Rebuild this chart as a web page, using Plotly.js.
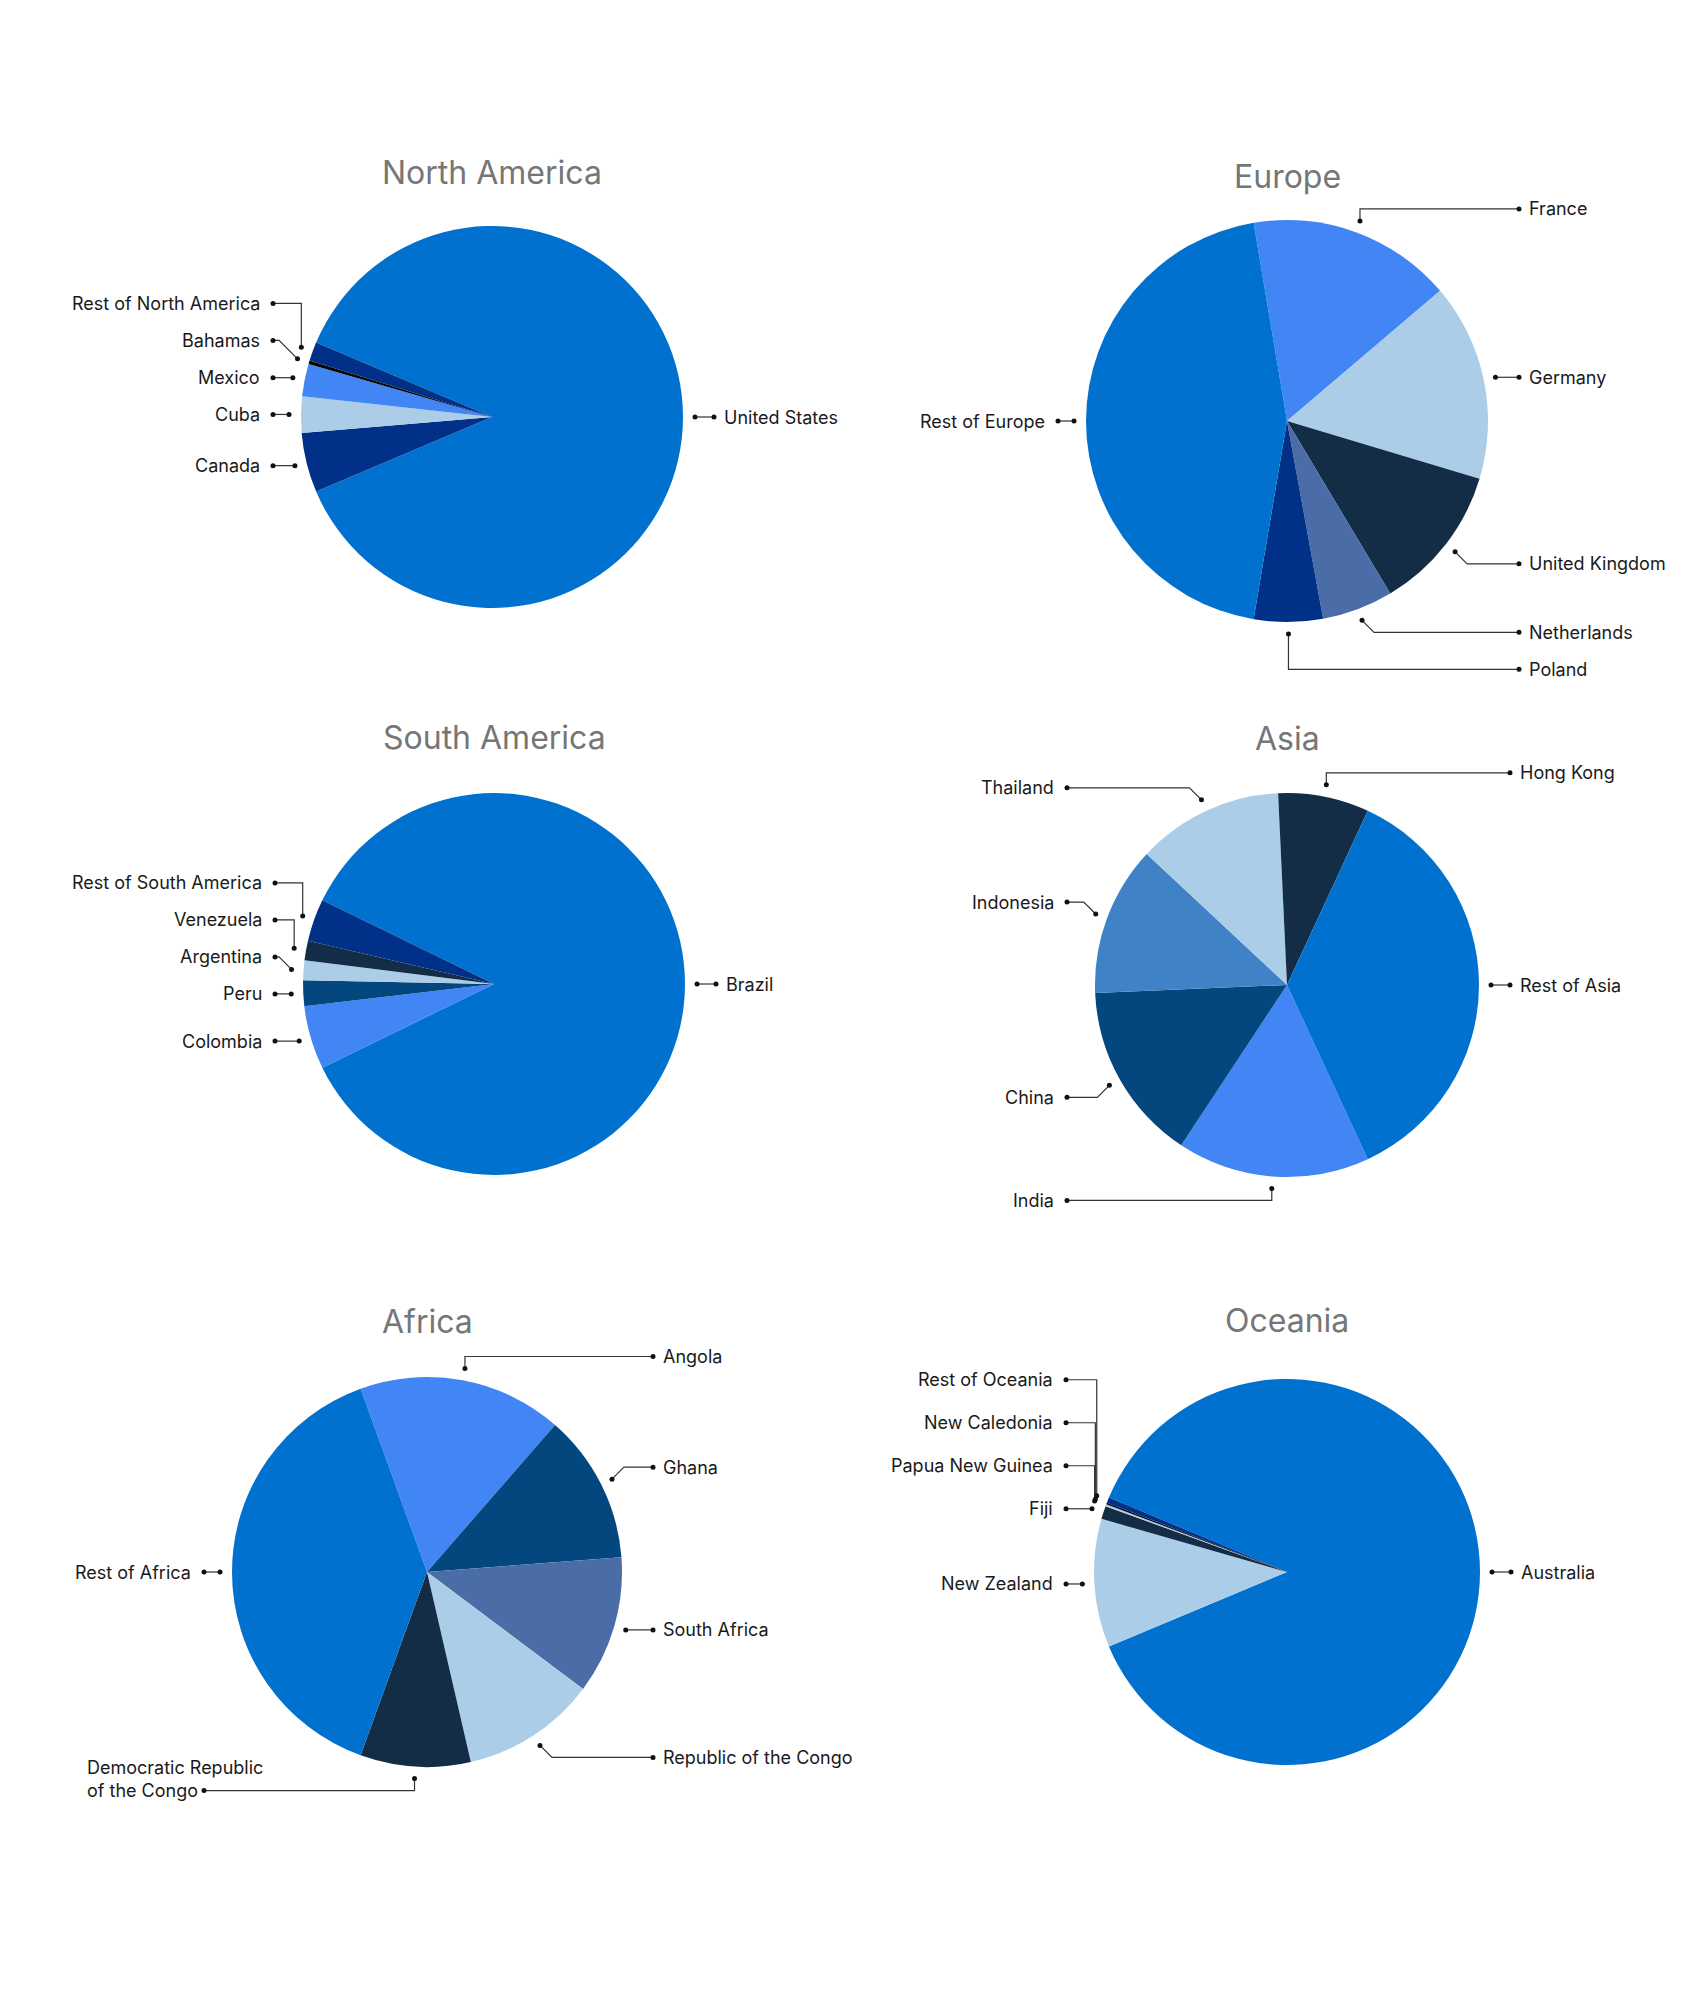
<!DOCTYPE html>
<html>
<head>
<meta charset="utf-8">
<script src="https://cdn.plot.ly/plotly-3.0.1.min.js"></script>
<style>
html,body{margin:0;padding:0;background:#ffffff;}
#chart{width:1683px;height:1999px;}
</style>
</head>
<body>
<div id="chart"></div>
<script>
// ---------------- data ----------------
const naLabels = ['United States','Canada','Cuba','Mexico','Bahamas','Rest of North America'];
const naValues = [87.25, 5.05, 3.05, 2.75, 0.3, 1.6];

const euLabels = ['France','Germany','United Kingdom','Netherlands','Poland','Rest of Europe'];
const euValues = [16.44, 15.85, 11.78, 5.71, 5.53, 44.69];

const saLabels = ['Brazil','Colombia','Peru','Argentina','Venezuela','Rest of South America'];
const saValues = [85.56, 5.36, 2.17, 1.67, 1.66, 3.58];

const asLabels = ['India','China','Indonesia','Thailand','Hong Kong','Rest of Asia'];
const asValues = [16.2, 15.06, 12.62, 12.3, 7.65, 36.18];

const afLabels = ['Angola','Ghana','South Africa','Republic of the Congo','Democratic Republic of the Congo','Rest of Africa'];
const afValues = [16.93, 12.39, 11.44, 11.16, 9.14, 38.94];

const ocLabels = ['Australia','New Zealand','Fiji','Papua New Guinea','New Caledonia','Rest of Oceania'];
const ocValues = [87.4, 10.74, 1.1, 0.16, 0.15, 0.45];

// ---------------- styles ----------------
const C = {
  blue:'#0071CE', navy:'#003087', light:'#ABCDE8', bright:'#4285F4', black:'#050505',
  dark:'#132D46', deep:'#04477E', slate:'#4A6DA7', mid:'#3F82C6'
};
const naColors = [C.blue, C.navy, C.light, C.bright, C.black, C.navy];
const euColors = [C.bright, C.light, C.dark, C.slate, C.navy, C.blue];
const saColors = [C.blue, C.bright, C.deep, C.light, C.dark, C.navy];
const asColors = [C.bright, C.deep, C.mid, C.light, C.dark, C.blue];
const afColors = [C.bright, C.deep, C.slate, C.light, C.dark, C.blue];
const ocColors = [C.blue, C.light, C.dark, C.light, C.black, C.navy];

const W = 1683, H = 1999;
const pies = [
  {title:'North America', labels:naLabels, values:naValues, colors:naColors, cx:492, cy:417, r:191, titleY:172, bigSide:'right', gap:37},
  {title:'Europe',        labels:euLabels, values:euValues, colors:euColors, cx:1287, cy:421, r:201, titleY:176, bigSide:'left', gap:37},
  {title:'South America', labels:saLabels, values:saValues, colors:saColors, cx:494, cy:984, r:191, titleY:737, bigSide:'right', gap:37},
  {title:'Asia',          labels:asLabels, values:asValues, colors:asColors, cx:1287, cy:985, r:192, titleY:738, bigSide:'right', gap:37},
  {title:'Africa',        labels:afLabels, values:afValues, colors:afColors, cx:427, cy:1572, r:195, titleY:1321, bigSide:'left', gap:37},
  {title:'Oceania',       labels:ocLabels, values:ocValues, colors:ocColors, cx:1287, cy:1572, r:193, titleY:1320, bigSide:'right', gap:43}
];

const LABEL_SIZE = 18, TITLE_SIZE = 32, ANCHOR_OFF = 12;
const COL_OFF_R = 31, COL_OFF_L = 28, PAD_R = 8, PAD_L = 11, PAD_ML = 8;
const FONT = 'Inter, "Noto Sans", sans-serif';
const ctx = document.createElement('canvas').getContext('2d');
ctx.font = LABEL_SIZE + 'px Inter';

function wrap(label) {
  if (label.length <= 24) return [label];
  const words = label.split(' ');
  const lines = [];
  let cur = '';
  words.forEach(w => {
    if (cur && (cur + ' ' + w).length > 20) { lines.push(cur); cur = w; }
    else cur = cur ? cur + ' ' + w : w;
  });
  if (cur) lines.push(cur);
  return lines;
}

const traces = [], annotations = [];
const lx = [], ly = [], dx = [], dy = [];

pies.forEach(p => {
  const total = p.values.reduce((a, b) => a + b, 0);
  let k = 0;
  p.values.forEach((v, i) => { if (v > p.values[k]) k = i; });
  const before = p.values.slice(0, k).reduce((a, b) => a + b, 0);
  const target = p.bigSide === 'right' ? 90 : 270;
  let rot = target - 360 * (before + p.values[k] / 2) / total;
  rot = ((rot + 180) % 360 + 360) % 360 - 180;

  traces.push({
    type: 'pie', labels: p.labels, values: p.values, sort: false, direction: 'clockwise',
    rotation: rot, marker: {colors: p.colors, line: {width: 0}}, textinfo: 'none',
    hoverinfo: 'label+percent', showlegend: false,
    domain: {x: [(p.cx - p.r) / W, (p.cx + p.r) / W], y: [1 - (p.cy + p.r) / H, 1 - (p.cy - p.r) / H]}
  });

  annotations.push({
    xref: 'x', yref: 'y', x: p.cx, y: p.titleY, text: p.title, showarrow: false,
    xanchor: 'center', yanchor: 'middle', font: {family: FONT, size: TITLE_SIZE, color: '#767676'}
  });

  let cum = 0;
  const items = [];
  p.values.forEach((v, i) => {
    const theta = rot + 360 * (cum + v / 2) / total; cum += v;
    const phi = (90 - theta) * Math.PI / 180;
    const c = Math.cos(phi), s = Math.sin(phi);
    const ax = p.cx + (p.r + ANCHOR_OFF) * c, ay = p.cy - (p.r + ANCHOR_OFF) * s;
    const side = c >= 0 ? 1 : -1;
    let y0 = ay;
    if (Math.abs(s) > 0.33) y0 = ay - 12 * Math.sign(s);
    items.push({label: p.labels[i], c, s, ax, ay, side, ly: y0});
  });

  [1, -1].forEach(side => {
    const grp = items.filter(it => it.side === side).sort((a, b) => a.ly - b.ly);
    if (!grp.length) return;
    let m = 0;
    grp.forEach((it, i) => { if (Math.abs(it.ly - p.cy) < Math.abs(grp[m].ly - p.cy)) m = i; });
    for (let i = m - 1; i >= 0; i--) grp[i].ly = Math.min(grp[i].ly, grp[i + 1].ly - p.gap);
    for (let i = m + 1; i < grp.length; i++) grp[i].ly = Math.max(grp[i].ly, grp[i - 1].ly + p.gap);
  });

  items.forEach(it => {
    const colX = it.side === 1 ? p.cx + p.r + COL_OFF_R : p.cx - p.r - COL_OFF_L;
    const d = it.ly - it.ay;
    let pts;
    if (Math.abs(d) < 1) { it.ly = it.ay; pts = [[it.ax, it.ay], [colX, it.ay]]; }
    else if (Math.abs(it.c) < 0.35 || Math.abs(d) > 20) pts = [[it.ax, it.ay], [it.ax, it.ly], [colX, it.ly]];
    else pts = [[it.ax, it.ay], [it.ax + it.side * Math.abs(d), it.ly], [colX, it.ly]];
    pts.forEach(pt => { lx.push(pt[0]); ly.push(pt[1]); });
    lx.push(null); ly.push(null);
    dx.push(it.ax, colX); dy.push(it.ay, it.ly);

    const lines = wrap(it.label);
    const lineH = LABEL_SIZE * 1.3;
    const yc = it.ly - (lines.length - 1) * lineH / 2;
    let ann;
    if (it.side === 1) {
      ann = {x: colX + PAD_R, xanchor: 'left', align: 'left'};
    } else if (lines.length === 1) {
      ann = {x: colX - PAD_L, xanchor: 'right', align: 'right'};
    } else {
      const wLast = ctx.measureText(lines[lines.length - 1]).width;
      ann = {x: colX - PAD_ML - wLast, xanchor: 'left', align: 'left'};
    }
    annotations.push(Object.assign(ann, {
      xref: 'x', yref: 'y', y: yc, yanchor: 'middle', text: lines.join('<br>'), showarrow: false,
      font: {family: FONT, size: LABEL_SIZE, color: '#1a1a1a'}
    }));
  });
});

traces.push({type: 'scatter', mode: 'lines', x: lx, y: ly, line: {color: '#333333', width: 1.2},
  hoverinfo: 'skip', showlegend: false, connectgaps: false});
traces.push({type: 'scatter', mode: 'markers', x: dx, y: dy, marker: {color: '#111111', size: 5},
  hoverinfo: 'skip', showlegend: false});

const layout = {
  width: W, height: H, margin: {l: 0, r: 0, t: 0, b: 0, pad: 0},
  paper_bgcolor: '#ffffff', plot_bgcolor: 'rgba(0,0,0,0)',
  xaxis: {range: [0, W], visible: false, fixedrange: true},
  yaxis: {range: [H, 0], visible: false, fixedrange: true},
  showlegend: false, annotations: annotations,
  font: {family: FONT}
};
Plotly.newPlot('chart', traces, layout, {displayModeBar: false, staticPlot: true});
</script>
</body>
</html>
